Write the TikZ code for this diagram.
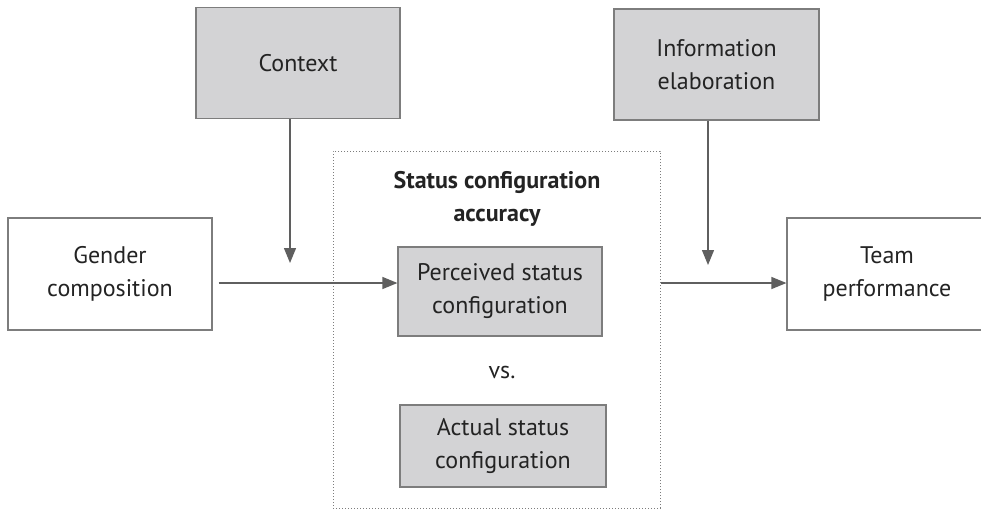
\documentclass[tikz,border=0pt]{standalone}
\usepackage{fontspec}
\setmainfont{PT Sans}
\usetikzlibrary{arrows.meta}
\definecolor{boxgray}{RGB}{211,211,213}
\definecolor{linegray}{RGB}{125,125,125}
\definecolor{arrowgray}{RGB}{95,95,95}
\definecolor{inkgray}{RGB}{35,35,35}
\tikzset{
  varbox/.style={draw=linegray, line width=1.2pt, align=center, inner sep=0pt,
    text=inkgray, font=\fontsize{24}{33}\selectfont},
  shaded/.style={varbox, fill=boxgray},
  arr/.style={draw=arrowgray, line width=1.3pt, -{Triangle[length=15pt,width=12pt]}}
}
\begin{document}
\begin{tikzpicture}[x=1pt,y=-1pt]
\clip (0,0) rectangle (981,509);
\node[shaded, minimum width=204, minimum height=111] (ctx) at (298,63) {Context};
\node[shaded, minimum width=205, minimum height=111] (info) at (716.5,64.5) {Information\\elaboration};
\node[varbox, minimum width=204, minimum height=112] (gender) at (110,274) {Gender\\composition};
\node[varbox, minimum width=200, minimum height=112] (team) at (887,274) {Team\\performance};
\node[draw=linegray, dotted, line width=1pt, minimum width=327, minimum height=357] (acc) at (496.5,329.5) {};
\node[align=center, text=inkgray, font=\fontsize{24}{33}\selectfont\bfseries] (title) at (497,199) {Status configuration\\accuracy};
\node[shaded, minimum width=204, minimum height=89] (perc) at (500,291.5) {Perceived status\\configuration};
\node[text=inkgray, font=\fontsize{24}{33}\selectfont] (vs) at (502,372) {vs.};
\node[shaded, minimum width=206, minimum height=82] (act) at (503,446) {Actual status\\configuration};
\coordinate (flow) at (0,283);
\coordinate (ctxin) at (290,263);
\coordinate (infoin) at (708,265);
\draw[arr] (ctx.south -| ctxin) -- (ctxin);
\draw[arr] (info.south -| infoin) -- (infoin);
\draw[arr, shorten <=6pt] (gender.east |- flow) -- (perc.west |- flow);
\draw[arr] (acc.east |- flow) -- (team.west |- flow);
\end{tikzpicture}
\end{document}
